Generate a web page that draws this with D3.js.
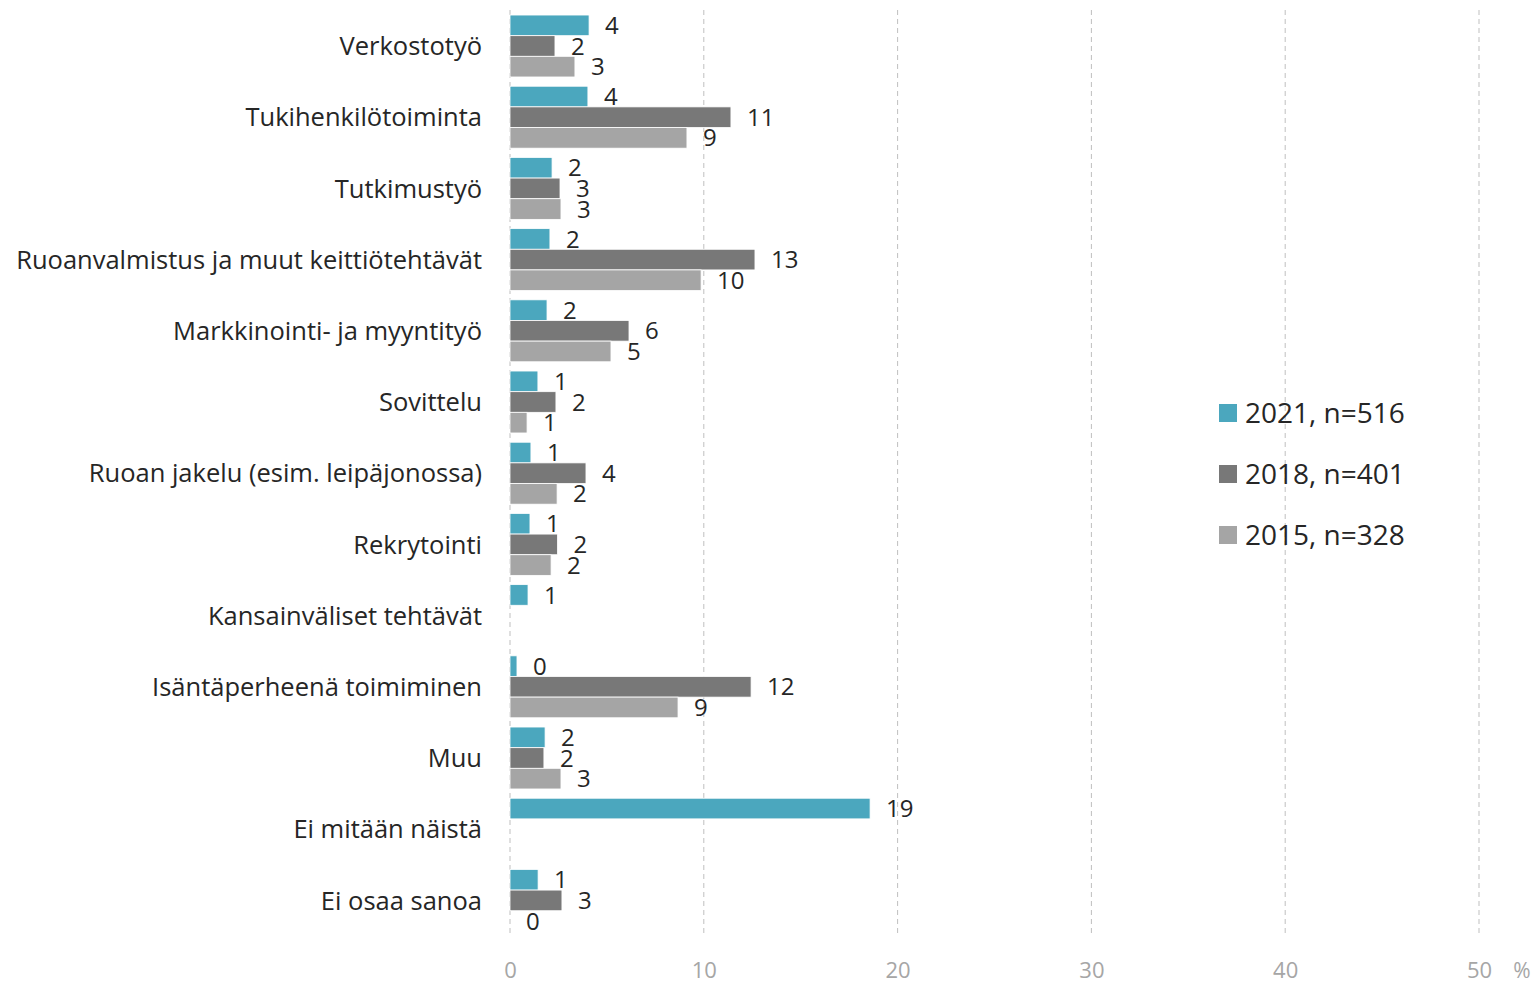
<!DOCTYPE html>
<html><head><meta charset="utf-8">
<script src="https://cdn.jsdelivr.net/npm/d3@7"></script>
<style>body{margin:0;background:#fff}svg{display:block}text{font-family:"Open Sans",sans-serif}</style>
</head><body><svg id="c" width="1536" height="983"></svg>
<script>
const categories = ["Verkostotyö","Tukihenkilötoiminta","Tutkimustyö","Ruoanvalmistus ja muut keittiötehtävät","Markkinointi- ja myyntityö","Sovittelu","Ruoan jakelu (esim. leipäjonossa)","Rekrytointi","Kansainväliset tehtävät","Isäntäperheenä toimiminen","Muu","Ei mitään näistä","Ei osaa sanoa"];
const seriesNames = ["2021, n=516","2018, n=401","2015, n=328"];
const values2021 = [4.08,4.02,2.17,2.06,1.91,1.44,1.08,1.03,0.93,0.36,1.81,18.58,1.45];
const values2018 = [2.32,11.4,2.58,12.64,6.14,2.37,3.92,2.45,null,12.44,1.75,null,2.68];
const values2015 = [3.35,9.13,2.63,9.86,5.21,0.88,2.43,2.12,null,8.67,2.63,null,0];
const tickValues = [0,10,20,30,40,50];
const colors = ["#4BA7BE","#787878","#A5A5A5"];

const svg = d3.select("#c");
const x = d3.scaleLinear().domain([0,50]).range([510,1479]);
const y = d3.scaleBand().domain(categories).range([10.4,936]).paddingInner(0.13).paddingOuter(0.065);
const sub = d3.scaleBand().domain(seriesNames).range([0,y.bandwidth()]);
const allSeries = [values2021,values2018,values2015];

// gridlines
svg.append("g").selectAll("line").data(tickValues).join("line")
  .attr("x1",d=>x(d)).attr("x2",d=>x(d)).attr("y1",10).attr("y2",936)
  .attr("stroke","#BFBFBF").attr("stroke-width",1).attr("stroke-dasharray","5,4");

// axis tick labels
const ax = d3.axisBottom(x).tickValues(tickValues).tickSize(0).tickPadding(0);
const axg = svg.append("g").attr("transform","translate(0,970)").call(ax);
axg.select(".domain").remove();
axg.selectAll("text").attr("font-size",22).attr("fill","#A6A6A6").attr("dy","0.36em").style("font-family","'Open Sans',sans-serif");
svg.append("text").attr("x",1522).attr("y",970).attr("dy","0.36em").attr("text-anchor","middle").attr("font-size",21).attr("fill","#A6A6A6").text("%");

// bars
const g = svg.append("g");
allSeries.forEach((vals,si)=>{
  const name = seriesNames[si];
  const data = categories.map((c,i)=>({c,v:vals[i]})).filter(d=>d.v!==null);
  g.append("g").selectAll("rect").data(data).join("rect")
    .attr("x",x(0)).attr("y",d=>y(d.c)+sub(name))
    .attr("width",d=>x(d.v)-x(0)).attr("height",sub.bandwidth())
    .attr("fill",colors[si]).attr("stroke","#fff").attr("stroke-width",0.8);
  g.append("g").selectAll("text").data(data).join("text")
    .attr("x",d=>x(d.v)+16).attr("y",d=>y(d.c)+sub(name)+sub.bandwidth()/2)
    .attr("dy","0.36em").attr("font-size",24).attr("fill","#262626")
    .text(d=>Math.round(d.v));
});

// category labels
svg.append("g").selectAll("text").data(categories).join("text")
  .attr("x",482).attr("y",d=>y(d)+y.bandwidth()/2).attr("dy","0.36em")
  .attr("text-anchor","end").attr("font-size",25.5).attr("fill","#262626").text(d=>d);

// legend
const lg = svg.append("g");
seriesNames.forEach((n,i)=>{
  const yy = 413 + i*61;
  lg.append("rect").attr("x",1219).attr("y",yy-9).attr("width",18).attr("height",18).attr("fill",colors[i]);
  lg.append("text").attr("x",1245).attr("y",yy).attr("dy","0.36em").attr("font-size",28).attr("fill","#262626").text(n);
});
</script></body></html>
